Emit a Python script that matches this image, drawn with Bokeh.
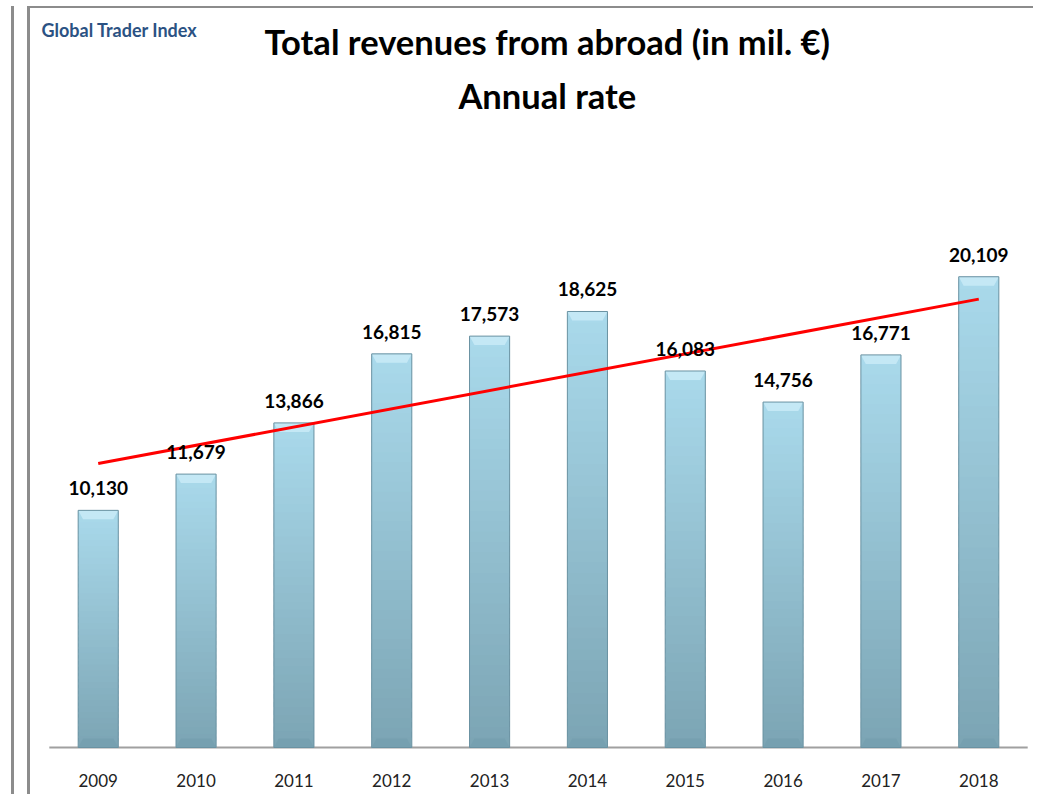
from bokeh.plotting import figure
from bokeh.models import FactorRange, Range1d, LabelSet, ColumnDataSource, Label
from bokeh.embed import file_html
from bokeh.resources import INLINE
from bokeh.core.properties import value
import numpy as np

years = ["2009", "2010", "2011", "2012", "2013", "2014", "2015", "2016", "2017", "2018"]
revenues = [10130, 11679, 13866, 16815, 17573, 18625, 16083, 14756, 16771, 20109]
value_labels = ["10,130", "11,679", "13,866", "16,815", "17,573", "18,625", "16,083", "14,756", "16,771", "20,109"]
title_line1 = "Total revenues from abroad (in mil. €)"
title_line2 = "Annual rate"
source_label = "Global Trader Index"

FONT = "Lato"
W, H = 1006, 788
AXIS_Y = 739          # canvas pixel row of the value axis (y = 0)
BELOW = 2             # frame extends this many px below the axis line
PX_PER_UNIT = 0.02341


def y_at(px_above_axis):
    return px_above_axis / PX_PER_UNIT


p = figure(width=W, height=H, title=None,
           x_range=FactorRange(*years, range_padding=0.09, range_padding_units="absolute"),
           y_range=Range1d(-y_at(BELOW), y_at(AXIS_Y)),
           output_backend="svg", toolbar_location=None,
           min_border_left=10, min_border_right=0,
           min_border_top=0, min_border_bottom=H - AXIS_Y - BELOW)
p.styles = {"margin-left": "27px",
            "margin-top": "6px",
            "margin-bottom": "-8px",
            "border-left": "3px solid #8c8c8c",
            "border-top": "2px solid #8c8c8c",
            "box-shadow": "-13px 0 0 0 #ffffff, -16px 0 0 0 #8c8c8c"}
p.outline_line_color = None
p.grid.visible = False
p.yaxis.visible = False
p.xaxis.axis_line_color = None
p.xaxis.major_tick_line_color = None
p.xaxis.minor_tick_line_color = None
p.xaxis.major_label_text_font = FONT
p.xaxis.major_label_text_font_size = "17px"
p.xaxis.major_label_text_color = "#222222"
p.xaxis.major_label_standoff = 18

# category baseline across the category bands
p.segment(x0=[0], y0=[0], x1=[len(years)], y1=[0], line_color="#a0a0a0", line_width=2)

# bars with vertical gradient, built as stacked slices of each bar
n_seg = 40
bar_w = 0.41
c_top = np.array([170, 218, 236])
c_bot = np.array([124, 165, 180])
xs, bots, tops, cols = [], [], [], []
for yr, v in zip(years, revenues):
    edges = np.linspace(0, v, n_seg + 1)
    step = v / n_seg
    for k in range(n_seg):
        t = (k + 0.5) / n_seg
        c = (c_bot + (c_top - c_bot) * t).astype(int)
        xs.append(yr)
        bots.append(edges[k])
        tops.append(min(edges[k + 1] + 0.6 * step, v))
        cols.append("#%02x%02x%02x" % tuple(c))
p.vbar(x=xs, bottom=bots, top=tops, width=bar_w, fill_color=cols, line_color=None)

# bevel caps
cap = y_at(9)
d = 0.05
top_xs, top_ys, bot_xs, bot_ys = [], [], [], []
for i, v in enumerate(revenues):
    cx = i + 0.5
    l, r = cx - bar_w / 2, cx + bar_w / 2
    top_xs.append([l, r, r - d, l + d])
    top_ys.append([v, v, v - cap, v - cap])
    bot_xs.append([l, r, r - d, l + d])
    bot_ys.append([0, 0, cap, cap])
p.patches(top_xs, top_ys, fill_color="#c4e8f5", line_color=None)
p.patches(bot_xs, bot_ys, fill_color="#76a0b0", line_color=None)
p.vbar(x=years, top=revenues, width=bar_w, fill_color=None, line_color="#6a92a2", line_width=1)

# linear trend line
xi = np.arange(len(revenues))
slope, intercept = np.polyfit(xi, np.array(revenues, dtype=float), 1)
p.line(x=[0.5, len(years) - 0.5], y=[intercept, intercept + slope * (len(years) - 1)],
       line_color="#ff0000", line_width=3)

# value labels
src = ColumnDataSource(dict(x=years, y=revenues, t=value_labels))
p.add_layout(LabelSet(x="x", y="y", text="t", source=src, y_offset=15,
                      text_align="center", text_baseline="alphabetic",
                      text_font=value(FONT), text_font_style="bold",
                      text_font_size="19px", text_color="#000000"))

# titles and source label, placed inside the (tall) frame
p.add_layout(Label(x=5.09, y=y_at(706), text=title_line1,
                   text_align="center", text_baseline="alphabetic",
                   text_font=FONT, text_font_style="bold", text_font_size="34.5px",
                   text_color="#000000"))
p.add_layout(Label(x=5.09, y=y_at(652), text=title_line2,
                   text_align="center", text_baseline="alphabetic",
                   text_font=FONT, text_font_style="bold", text_font_size="34.5px",
                   text_color="#000000"))
p.add_layout(Label(x=-0.08, y=y_at(718), text=source_label,
                   text_align="left", text_baseline="alphabetic",
                   text_font=FONT, text_font_style="bold", text_font_size="18px",
                   text_color="#2b5283"))

open("out.html", "w").write(file_html(p, INLINE))
